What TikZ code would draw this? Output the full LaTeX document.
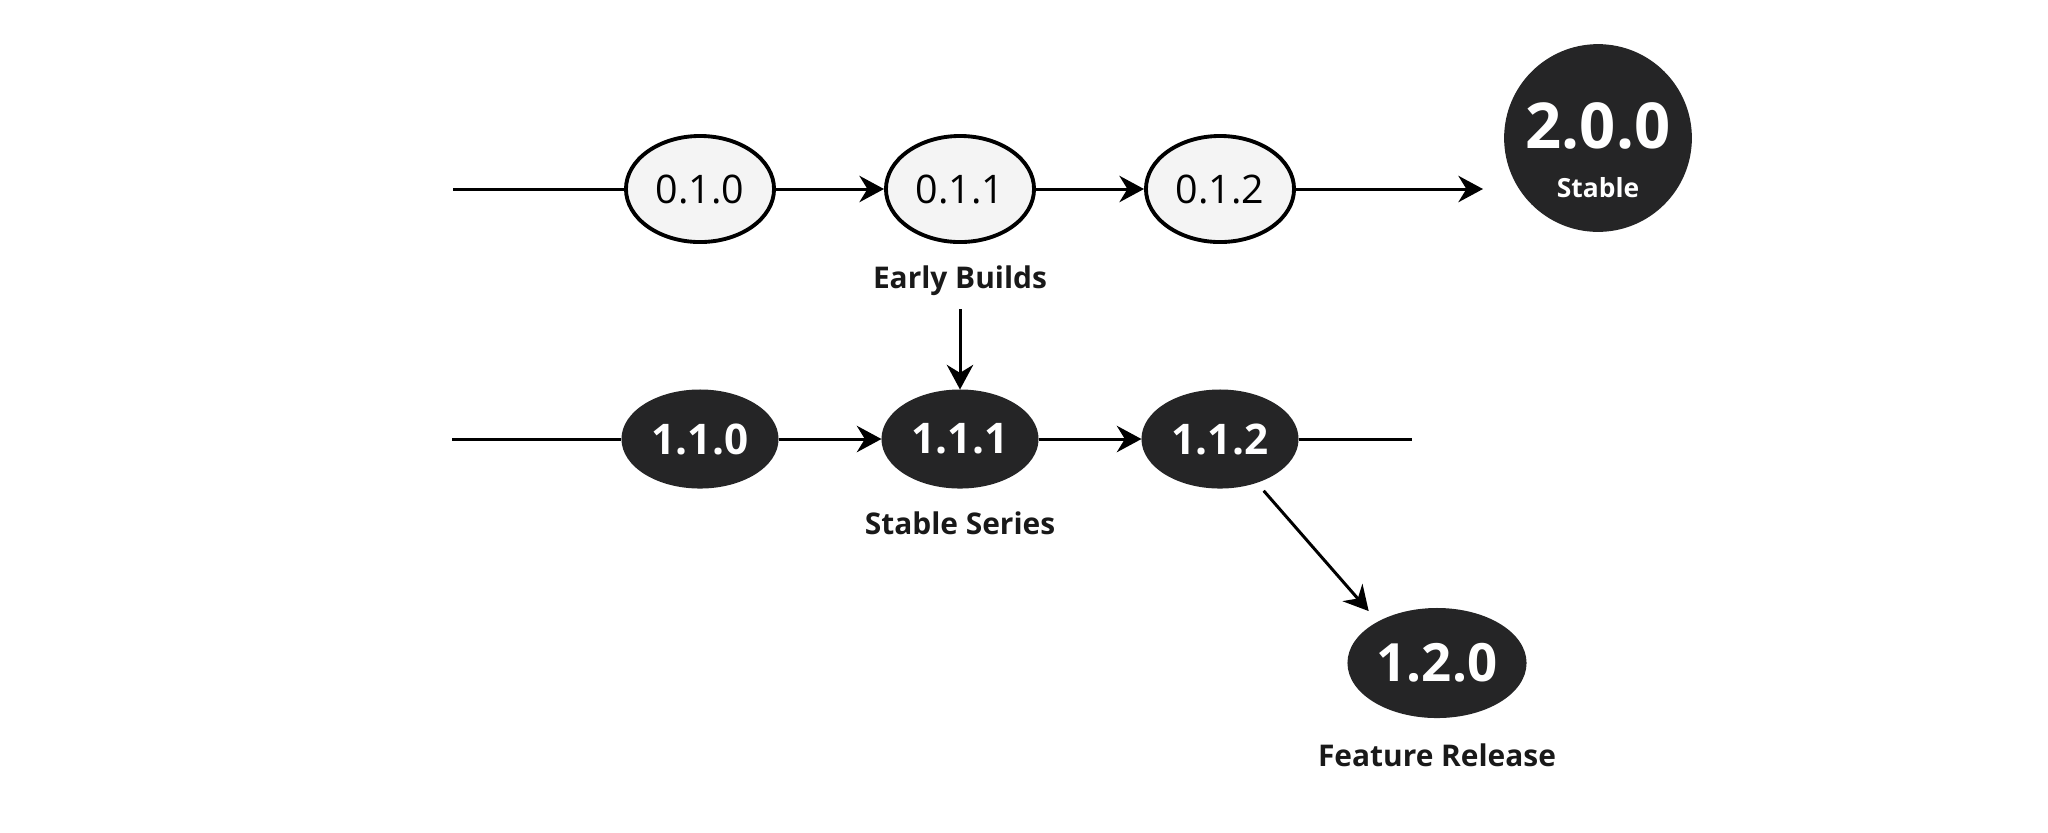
\documentclass[tikz,border=0pt]{standalone}
\usepackage{fontspec}
\setmainfont{Open Sans}
\usetikzlibrary{shapes.geometric,arrows.meta}
\definecolor{verdark}{HTML}{252526}
\definecolor{verlight}{HTML}{F4F4F4}
\begin{document}
\begin{tikzpicture}[x=0.01cm,y=-0.01cm,line width=0.85pt,
    arr/.style={-{Stealth[length=7pt,width=7.5pt]}},
    early/.style={ellipse,draw,line width=1.1pt,fill=verlight,minimum width=14.8mm,minimum height=10.6mm,inner sep=0pt,font=\fontsize{11.2}{13}\selectfont},
    release/.style={ellipse,draw=verdark,fill=verdark,text=white,minimum width=15.4mm,minimum height=9.6mm,inner sep=0pt,font=\bfseries\fontsize{12}{14}\selectfont},
    caption/.style={text=black!90,font=\bfseries\fontsize{8.5}{10}\selectfont}]
    \useasboundingbox (0,0) rectangle (2048,832);
    % Early builds row
    \coordinate (ts) at (453,189);
    \coordinate (te) at (1483,189);
    \foreach \v [count=\i] in {0.1.0,0.1.1,0.1.2}
        \node[early] (t\i) at (440+260*\i,189) {\v};
    \draw (ts) -- (t1);
    \draw[arr] (t1) -- (t2);
    \draw[arr] (t2) -- (t3);
    \draw[arr] (t3) -- (te);
    \node[circle,fill=verdark,text=white,minimum size=18.5mm,inner sep=0pt,align=center,
        font=\bfseries\fontsize{18}{18}\selectfont] (v200) at (1598,138)
        {\rule{0pt}{20pt}2.0.0\\[-4pt]{\fontsize{7.5}{9}\selectfont Stable}};
    \node[caption] (eb) at (960,281) {Early Builds};

    % Stable series row
    \coordinate (bs) at (452,439);
    \coordinate (be) at (1412,439);
    \foreach \v [count=\i] in {1.1.0,1.1.1,1.1.2}
        \node[release] (b\i) at (440+260*\i,439) {\v};
    \draw (bs) -- (b1);
    \draw[arr] (b1) -- (b2);
    \draw[arr] (b2) -- (b3);
    \draw (b3) -- (be);
    \node[caption] (ss) at (960,523) {Stable Series};
    \draw[arr] (eb) -- (b2);

    % Feature release
    \node[release,minimum width=17.6mm,minimum height=10.7mm,font=\bfseries\fontsize{15}{17}\selectfont] (v120) at (1437,663) {1.2.0};
    \node[caption] (fr) at (1437,755) {Feature Release};
    \draw[arr,shorten <=3pt,shorten >=4pt] (b3.-50) -- (v120.145);
\end{tikzpicture}
\end{document}
